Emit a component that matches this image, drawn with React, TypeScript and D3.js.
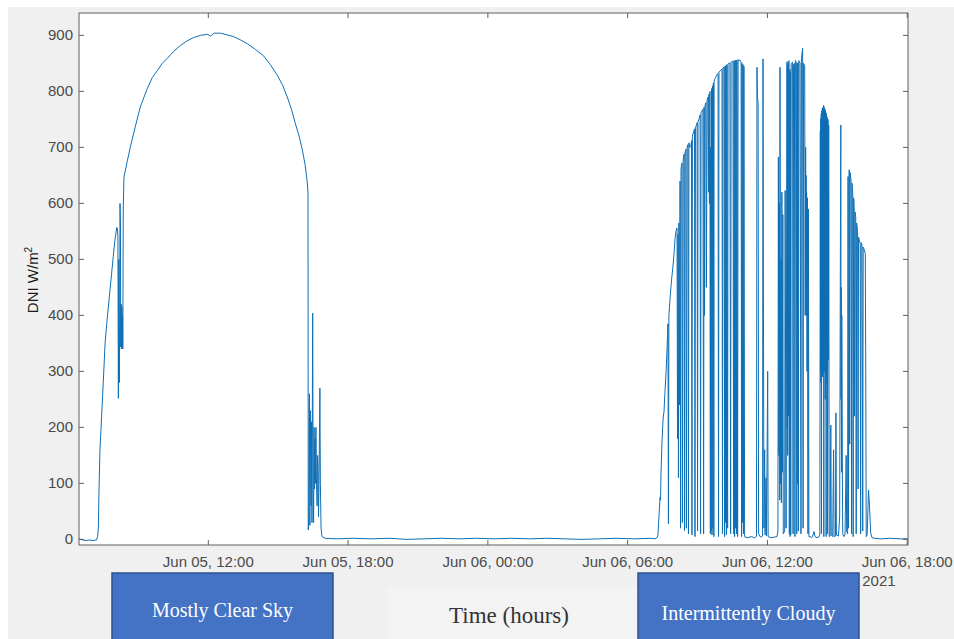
import React from "react";
import * as d3 from "d3";

// ---- data (hour of day, DNI W/m^2) ----
// Jun 05 (hours after Jun 05 00:00)
const clearDay: [number, number][] = [
  [6.45,1],[6.60,-1],[6.75,-2],[6.90,-1],[7.05,-2],[7.20,-1],[7.25,5],[7.28,20],[7.31,90],[7.35,160],
  [7.42,219],[7.49,279],[7.57,350],[7.64,385],[7.71,415],[7.78,445],[7.85,475],[7.92,505],[7.99,534],[8.07,557],
  [8.10,555],[8.12,540],[8.14,252],[8.16,500],[8.18,280],[8.20,420],[8.21,600],[8.23,560],[8.24,344],[8.26,420],
  [8.27,340],[8.29,415],[8.30,345],[8.32,400],[8.33,340],[8.35,590],[8.38,647],[8.52,675],[8.65,700],[8.86,736],
  [9.08,772],[9.38,805],[9.60,825],[9.81,837],[10.02,850],[10.24,859],[10.50,871],[10.80,882],[11.08,890],[11.36,896],
  [11.66,900],[11.96,902],[12.10,899],[12.25,904],[12.52,904],[12.80,901],[13.07,898],[13.38,892],[13.68,885],[14.02,875],
  [14.36,864],[14.66,848],[14.96,829],[15.18,812],[15.39,790],[15.57,768],[15.74,742],[15.90,720],[16.04,695],[16.15,670],
  [16.24,641],[16.28,620],[16.29,17],[16.31,30],[16.34,260],[16.36,25],[16.38,230],[16.41,60],[16.43,210],[16.45,30],
  [16.48,404],[16.50,100],[16.52,30],[16.54,200],[16.56,90],[16.58,180],[16.60,100],[16.62,200],[16.64,110],[16.67,60],
  [16.69,150],[16.71,130],[16.73,40],[16.75,90],[16.79,270],[16.81,100],[16.84,20],[16.88,5],
];

// night (hours after Jun 05 00:00)
const night: [number, number][] = [
  [17.01,2],[17.5,1],[18.2,2],[19.0,1],[19.8,2],[20.5,0],[21.3,1],[22.0,2],[22.8,1],[23.5,2],
  [24.3,1],[25.0,2],[25.8,1],[26.5,2],[27.3,1],[28.0,0],[28.8,1],[29.5,2],[30.3,1],[31.0,2],
];

// Jun 06 (hours after Jun 06 00:00)
const cloudyDay: [number, number][] = [
  [7.17,1],[7.22,2],[7.26,3],[7.30,8],[7.35,45],[7.39,75],[7.41,70],[7.43,115],[7.47,170],[7.52,215],
  [7.56,228],[7.60,262],[7.65,300],[7.69,340],[7.73,385],[7.75,28],[7.77,400],[7.82,430],[7.86,452],[7.90,470],
  [7.95,490],[7.99,510],[8.03,535],[8.07,550],[8.12,556],[8.14,180],[8.16,545],[8.18,110],[8.20,565],[8.22,240],
  [8.25,640],[8.27,20],[8.29,660],[8.31,668],[8.33,672],[8.35,30],[8.38,676],[8.40,682],[8.42,688],[8.44,15],
  [8.46,690],[8.48,694],[8.50,697],[8.52,20],[8.55,700],[8.59,705],[8.61,10],[8.63,708],[8.68,700],[8.72,702],
  [8.74,712],[8.76,8],[8.78,720],[8.83,728],[8.87,733],[8.89,5],[8.91,736],[8.96,740],[8.98,744],[9.00,15],
  [9.02,746],[9.06,750],[9.11,758],[9.13,10],[9.15,762],[9.19,765],[9.23,768],[9.26,10],[9.28,772],[9.30,400],
  [9.32,775],[9.36,780],[9.38,450],[9.41,785],[9.45,790],[9.47,620],[9.49,795],[9.51,600],[9.53,800],[9.55,10],
  [9.56,700],[9.58,15],[9.60,805],[9.62,8],[9.64,810],[9.66,20],[9.68,815],[9.70,5],[9.71,818],[9.75,823],
  [9.79,826],[9.83,830],[9.88,832],[9.90,5],[9.92,835],[9.96,836],[10.01,838],[10.05,840],[10.07,10],[10.09,842],
  [10.14,843],[10.16,5],[10.18,845],[10.20,30],[10.22,846],[10.24,8],[10.26,848],[10.29,20],[10.31,849],[10.35,850],
  [10.39,851],[10.42,10],[10.44,852],[10.48,853],[10.52,854],[10.55,10],[10.57,855],[10.59,5],[10.61,855],[10.63,20],
  [10.65,856],[10.67,10],[10.69,856],[10.72,5],[10.74,857],[10.78,855],[10.82,856],[10.87,852],[10.89,5],[10.91,850],
  [10.93,30],[10.95,848],[10.97,10],[10.99,845],[11.02,8],[11.04,4],[11.15,3],[11.30,5],[11.45,3],[11.53,5],
  [11.55,843],[11.57,790],[11.60,780],[11.62,10],[11.70,4],[11.79,6],[11.81,858],[11.83,400],[11.85,20],[11.88,160],
  [11.90,8],[11.94,110],[11.96,6],[12.01,300],[12.03,5],[12.15,3],[12.30,4],[12.41,5],[12.45,15],[12.47,683],
  [12.49,150],[12.51,600],[12.53,70],[12.54,843],[12.56,100],[12.58,500],[12.60,65],[12.62,620],[12.64,120],[12.66,580],
  [12.68,10],[12.74,15],[12.76,623],[12.78,270],[12.80,20],[12.84,853],[12.85,200],[12.86,845],[12.87,150],[12.88,850],
  [12.90,220],[12.92,855],[12.94,10],[12.96,840],[12.97,5],[12.99,835],[13.00,8],[13.02,850],[13.08,852],[13.10,10],
  [13.12,848],[13.16,850],[13.18,5],[13.20,855],[13.24,852],[13.26,10],[13.28,850],[13.30,100],[13.31,851],[13.33,15],
  [13.35,855],[13.40,850],[13.44,10],[13.46,860],[13.49,870],[13.51,877],[13.53,20],[13.55,850],[13.60,845],[13.62,400],
  [13.64,700],[13.65,450],[13.66,650],[13.67,400],[13.68,620],[13.70,300],[13.72,610],[13.74,10],[13.76,590],[13.78,5],
  [13.83,5],[13.90,3],[13.96,8],[14.00,14],[14.04,5],[14.12,3],[14.20,4],[14.25,8],[14.27,730],[14.28,300],
  [14.29,752],[14.30,280],[14.31,760],[14.32,10],[14.33,765],[14.34,320],[14.35,768],[14.36,290],[14.37,770],[14.38,350],
  [14.39,772],[14.40,300],[14.41,775],[14.42,5],[14.43,772],[14.44,330],[14.45,770],[14.46,300],[14.47,768],[14.48,250],
  [14.49,765],[14.50,300],[14.51,762],[14.52,5],[14.53,760],[14.54,280],[14.55,755],[14.56,300],[14.57,752],[14.58,10],
  [14.60,750],[14.62,320],[14.63,740],[14.65,5],[14.69,6],[14.72,204],[14.74,8],[14.80,5],[14.84,160],[14.86,5],
  [14.92,6],[14.94,226],[14.96,8],[15.05,6],[15.10,40],[15.13,500],[15.15,740],[15.16,250],[15.17,450],[15.18,120],
  [15.19,400],[15.21,200],[15.23,10],[15.28,5],[15.33,8],[15.38,150],[15.40,15],[15.44,10],[15.46,648],[15.48,20],
  [15.51,660],[15.53,170],[15.55,655],[15.59,640],[15.61,10],[15.63,636],[15.66,620],[15.68,5],[15.70,610],[15.72,600],
  [15.74,220],[15.76,585],[15.79,575],[15.81,10],[15.83,565],[15.87,550],[15.89,90],[15.91,540],[15.94,535],[15.98,528],
  [16.00,10],[16.02,530],[16.06,525],[16.09,15],[16.11,522],[16.15,518],[16.20,510],[16.22,300],[16.24,5],[16.28,8],
  [16.34,88],[16.38,60],[16.43,12],[16.49,3],[16.62,2],[16.84,1],[17.27,2],[17.70,1],[18.04,1],
];

const yTicks = [0, 100, 200, 300, 400, 500, 600, 700, 800, 900];
const yearLabel = "2021";
const yLabel = "DNI W/m";
const xLabel = "Time (hours)";
const boxLabels = ["Mostly Clear Sky", "Intermittently Cloudy"];

const W = 954;
const H = 639;
const plot = { left: 79, right: 908, top: 13, bottom: 545 };

const base5 = new Date(2021, 5, 5).getTime();
const base6 = new Date(2021, 5, 6).getTime();
const at = (base: number, h: number) => new Date(base + h * 3600000);

export default function App() {
  const x = d3
    .scaleTime()
    .domain([new Date(2021, 5, 5, 6, 27), new Date(2021, 5, 6, 18, 2)])
    .range([plot.left, plot.right]);
  const y = d3.scaleLinear().domain([-10, 940]).range([plot.bottom, plot.top]);

  const pts: [Date, number][] = [
    ...clearDay.map(([h, v]) => [at(base5, h), v] as [Date, number]),
    ...night.map(([h, v]) => [at(base5, h), v] as [Date, number]),
    ...cloudyDay.map(([h, v]) => [at(base6, h), v] as [Date, number]),
  ];
  const line = d3
    .line<[Date, number]>()
    .x((d) => x(d[0]))
    .y((d) => y(d[1]));
  const d = line(pts) || "";

  const xTicks = x.ticks(d3.timeHour.every(6) as d3.TimeInterval);
  const fmt = d3.timeFormat("%b %d, %H:%M");
  const axisColor = "#5e5e5e";
  const textColor = "#4a4a4a";
  const sans = "'Liberation Sans', Arial, Helvetica, sans-serif";
  const serif = "'Liberation Serif', 'Times New Roman', serif";
  const lastTickX = x(xTicks[xTicks.length - 1]);

  return (
    <svg
      width={W}
      height={H}
      viewBox={`0 0 ${W} ${H}`}
      style={{ position: "absolute", left: 0, top: 0, display: "block" }}
    >
      <rect x={0} y={0} width={W} height={H} fill="#ffffff" />
      <rect x={8} y={7} width={W - 8} height={H - 7} fill="#f0f0f0" />
      <rect x={387} y={587} width={250} height={H - 587} fill="#f3f3f3" />
      <rect
        x={plot.left}
        y={plot.top}
        width={plot.right - plot.left}
        height={plot.bottom - plot.top}
        fill="#ffffff"
      />
      <defs>
        <clipPath id="plotclip">
          <rect
            x={plot.left}
            y={plot.top}
            width={plot.right - plot.left}
            height={plot.bottom - plot.top}
          />
        </clipPath>
      </defs>
      <path
        d={d}
        fill="none"
        stroke="#0f6fb5"
        strokeWidth={1}
        strokeLinejoin="round"
        clipPath="url(#plotclip)"
      />
      <rect
        x={plot.left}
        y={plot.top}
        width={plot.right - plot.left}
        height={plot.bottom - plot.top}
        fill="none"
        stroke={axisColor}
        strokeWidth={1}
      />
      {yTicks.map((t) => (
        <g key={"y" + t}>
          <line x1={plot.left} x2={plot.left + 5} y1={y(t)} y2={y(t)} stroke={axisColor} />
          <line x1={plot.right - 5} x2={plot.right} y1={y(t)} y2={y(t)} stroke={axisColor} />
          <text
            x={73}
            y={y(t) + 5}
            textAnchor="end"
            fontFamily={sans}
            fontSize={15}
            fill={textColor}
          >
            {t}
          </text>
        </g>
      ))}
      {xTicks.map((t, i) => (
        <g key={"x" + i}>
          <line x1={x(t)} x2={x(t)} y1={plot.bottom} y2={plot.bottom - 5} stroke={axisColor} />
          <line x1={x(t)} x2={x(t)} y1={plot.top} y2={plot.top + 5} stroke={axisColor} />
          <text
            x={x(t)}
            y={567}
            textAnchor="middle"
            fontFamily={sans}
            fontSize={15}
            fill={textColor}
          >
            {fmt(t)}
          </text>
        </g>
      ))}
      <text x={lastTickX - 45} y={586} fontFamily={sans} fontSize={15} fill={textColor}>
        {yearLabel}
      </text>
      <text
        transform="translate(38.3,280) rotate(-90)"
        textAnchor="middle"
        fontFamily={sans}
        fontSize={15}
        fill="#1a1a1a"
      >
        {yLabel}
        <tspan dy={-6} fontSize={10}>
          2
        </tspan>
      </text>
      <rect x={112} y={573} width={221} height={80} fill="#4472c4" stroke="#2f528f" strokeWidth={1.5} />
      <text x={222.5} y={617} textAnchor="middle" fontFamily={serif} fontSize={20} fill="#ffffff">
        {boxLabels[0]}
      </text>
      <rect x={638} y={573} width={221} height={80} fill="#4472c4" stroke="#2f528f" strokeWidth={1.5} />
      <text x={748.5} y={620} textAnchor="middle" fontFamily={serif} fontSize={20} fill="#ffffff">
        {boxLabels[1]}
      </text>
      <text x={509} y={623} textAnchor="middle" fontFamily={serif} fontSize={23} fill="#333333">
        {xLabel}
      </text>
    </svg>
  );
}
